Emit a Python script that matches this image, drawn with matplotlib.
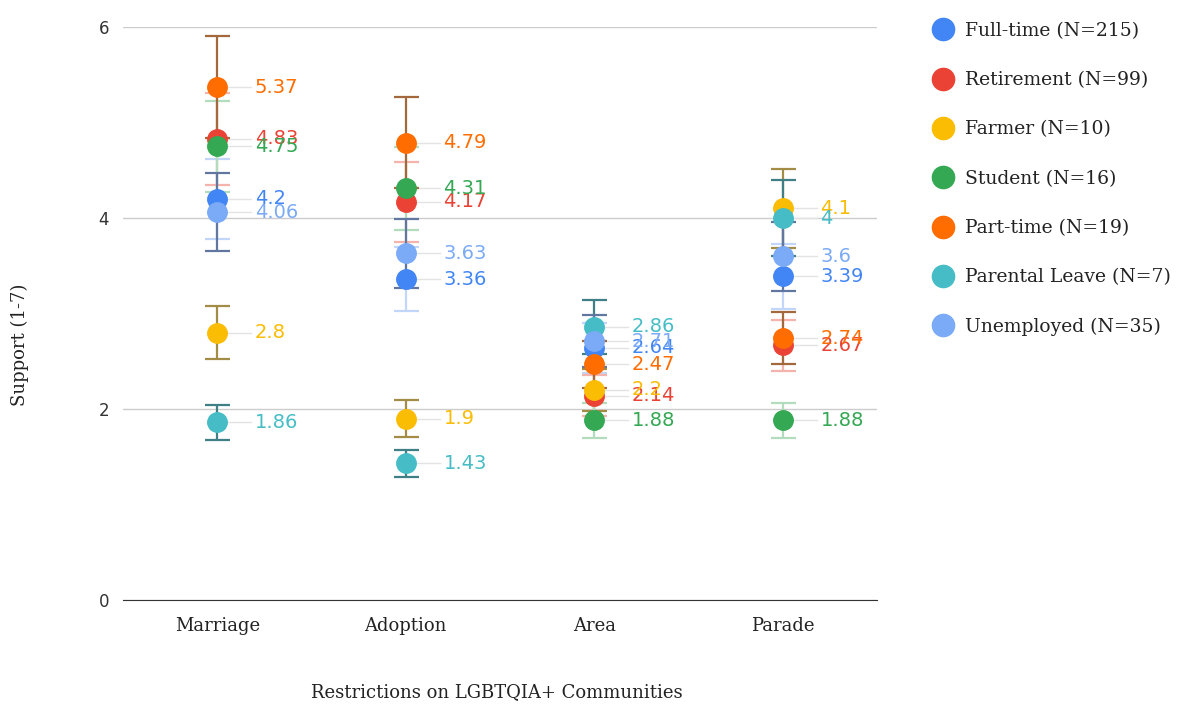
import matplotlib.pyplot as plt
from matplotlib.lines import Line2D
import numpy as np

categories = ["Marriage", "Adoption", "Area", "Parade"]
groups = ["Full-time (N=215)", "Retirement (N=99)", "Farmer (N=10)", "Student (N=16)",
          "Part-time (N=19)", "Parental Leave (N=7)", "Unemployed (N=35)"]

full_time = [4.2, 3.36, 2.64, 3.39]
retirement = [4.83, 4.17, 2.14, 2.67]
farmer = [2.8, 1.9, 2.2, 4.1]
student = [4.75, 4.31, 1.88, 1.88]
part_time = [5.37, 4.79, 2.47, 2.74]
parental_leave = [1.86, 1.43, 2.86, 4.0]
unemployed = [4.06, 3.63, 2.71, 3.6]

# error bars are 10% of each mean
err_pct = 0.10

series = [full_time, retirement, farmer, student, part_time, parental_leave, unemployed]
colors = ["#4285f4", "#ea4335", "#fbbc04", "#34a853", "#ff6d01", "#46bdc6", "#7baaf7"]
err_colors = ["#c2d6fb", "#f5b3ad", "#a38c45", "#b3dcbd", "#a3693d", "#3f7f85", "#61779f"]

serif = "DejaVu Serif"

fig = plt.figure(figsize=(11.77, 7.05), dpi=100)
ax = fig.add_axes([123 / 1177, 1 - 600 / 705, 754 / 1177, 573 / 705])

x = np.arange(len(categories)) + 0.5

for vals, c, ec, name in zip(series, colors, err_colors, groups):
    vals = np.array(vals)
    ax.errorbar(x, vals, yerr=vals * err_pct, fmt="none", ecolor=ec, elinewidth=1.6,
                capsize=9, capthick=1.6, clip_on=False, zorder=3)
    ax.plot(x, vals, "o", color=c, ms=14, mec=c, clip_on=False, zorder=4, label=name)
    for xi, v in zip(x, vals):
        ax.plot([xi + 0.045, xi + 0.18], [v, v], color="#e3e3e3", lw=1, zorder=2)
        ax.text(xi + 0.2, v, f"{v:g}", color=c, fontsize=14, va="center", ha="left", zorder=5)

ax.set_xlim(0, 4)
ax.set_ylim(0, 6)
ax.set_yticks([0, 2, 4, 6])
ax.set_xticks(x)
ax.set_xticklabels(categories, fontsize=13, family=serif, color="#222222")
ax.tick_params(axis="y", length=0, pad=10, labelsize=12, labelcolor="#333333")
ax.tick_params(axis="x", length=0, pad=12)
ax.grid(axis="y", color="#cccccc", lw=1)
ax.set_axisbelow(True)
for s in ["top", "right", "left"]:
    ax.spines[s].set_visible(False)
ax.spines["bottom"].set_color("#333333")

fig.text(497 / 1177, 1 - 692 / 705, "Restrictions on LGBTQIA+ Communities", ha="center",
         va="center", fontsize=13, family=serif, color="#222222")
fig.text(20 / 1177, 1 - 345 / 705, "Support (1-7)", ha="center", va="center", rotation=90,
         fontsize=13, family=serif, color="#222222")

handles = [Line2D([], [], marker="o", ls="", color=c, ms=16) for c in colors]
fig.legend(handles, groups, loc="upper left", bbox_to_anchor=(915 / 1177, 1 - 5 / 705),
           frameon=False, prop={"family": serif, "size": 13.5}, handletextpad=0.55,
           labelspacing=1.67, handlelength=1.2, labelcolor="#222222")

fig.savefig("out.png", dpi=100)
